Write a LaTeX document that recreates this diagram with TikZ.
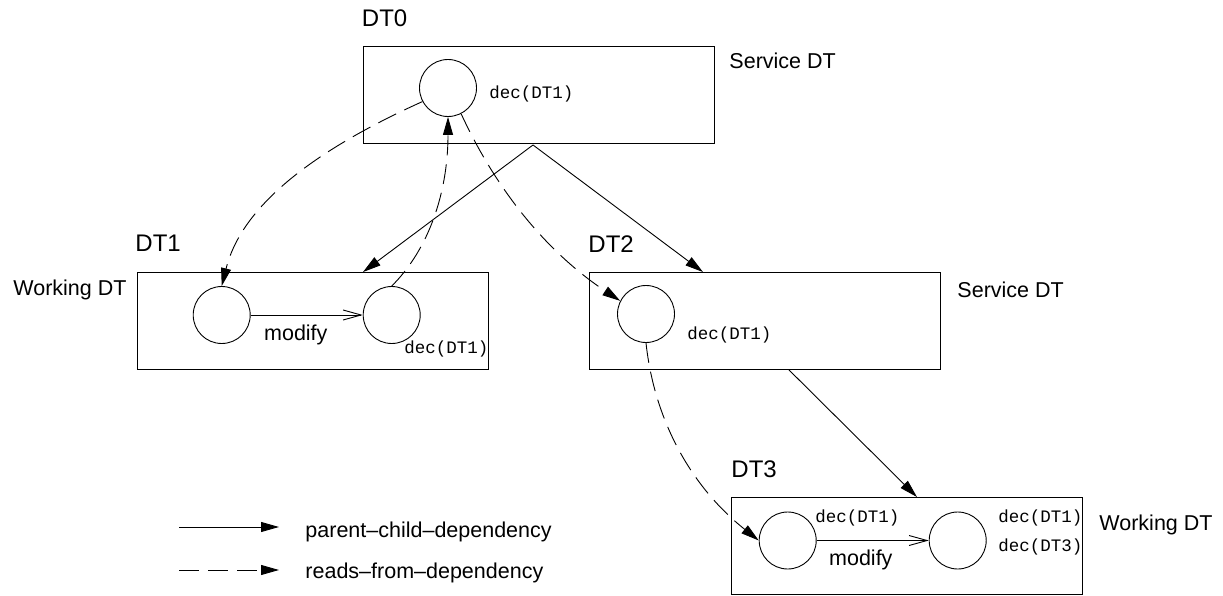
\documentclass[tikz,border=0pt]{standalone}
\usepackage{fontspec}
\setmainfont{Liberation Sans}
\setmonofont{Liberation Mono}
\usetikzlibrary{positioning,arrows.meta}

\begin{document}
\begin{tikzpicture}[x=1pt, y=-1pt, line width=0.9pt,
dtbox/.style={rectangle, draw, minimum width=351pt, minimum height=97pt},
statenode/.style={circle, draw, minimum size=57pt},
dtname/.style={anchor=base west, font=\fontsize{24}{28}\selectfont},
declabel/.style={anchor=base west, font=\fontsize{17.5}{20}\ttfamily},
kindlabel/.style={anchor=base west},
pcarrow/.style={-{Triangle[length=18pt,width=10pt]}},
rfarrow/.style={pcarrow, dash pattern=on 20pt off 9pt},
modarrow/.style={-{Straight Barb[length=18pt,width=10pt]}}]
\tikzstyle{every node}=[font=\fontsize{21.5}{25}\selectfont, inner sep=0pt]
\useasboundingbox (0,0) rectangle (1223,596);

% the four DTs
\node[dtbox] (dt0) at (538.5,95) {};
\node[dtbox] (dt1) at (312.5,321) {};
\node[dtbox] (dt2) at (765,321) {};
\node[dtbox] (dt3) at (907,546) {};

\node[dtname] (dt0name) at (361.5,26.7) {DT0};
\node[dtname] (dt1name) at (135,251.7) {DT1};
\node[dtname] (dt2name) at (588,252.7) {DT2};
\node[dtname] (dt3name) at (731,477.7) {DT3};

\node[kindlabel] (dt0kind) at (729,69) {Service DT};
\node[kindlabel] (dt1kind) at (13,295.7) {Working DT};
\node[kindlabel] (dt2kind) at (957,297) {Service DT};
\node[kindlabel] (dt3kind) at (1099,530) {Working DT};

% states
\node[statenode] (c0) at (448,88) {};
\node[statenode] (c1a) at (221.7,315) {};
\node[statenode] (c1b) at (391.7,315) {};
\node[statenode] (c2) at (646,314) {};
\node[statenode] (c3a) at (787.7,540.5) {};
\node[statenode] (c3b) at (957.7,540.5) {};

\node[declabel] (d0) at (488.8,98.5) {dec(DT1)};
\node[declabel] (d1) at (404,353.3) {dec(DT1)};
\node[declabel] (d2) at (687,339) {dec(DT1)};
\node[declabel] (d3a) at (815,522.7) {dec(DT1)};
\node[declabel] (d3b) at (998,522.7) {dec(DT1)};
\node[declabel] (d3c) at (998,551) {dec(DT3)};

\draw[modarrow] (c1a) -- (c1b);
\node[kindlabel] (mod1) at (263.7,340) {modify};
\draw[modarrow] (c3a) -- (c3b);
\node[kindlabel] (mod3) at (828.7,565) {modify};

% parent-child
\coordinate (fork) at (533,145);
\draw[pcarrow] (fork) -- ([xshift=50.5pt]dt1.north);
\draw[pcarrow] (fork) -- ([xshift=-62pt]dt2.north);
\draw[pcarrow] ([xshift=24pt]dt2.south) -- ([xshift=10pt]dt3.north);

% reads-from
\draw[rfarrow] (c0.208) .. controls (315,150) and (242,205) .. (c1a.north);
\draw[rfarrow] (c1b.north) .. controls (429,249) and (448,192) .. (c0.south);
\draw[rfarrow] (c0.297) .. controls (497.6,192.9) and (549.3,254) .. (c2.153);
\draw[rfarrow] (c2.south) .. controls (654.6,422.2) and (692.4,487.8) .. (c3a.west);

% legend
\coordinate (pcA) at (179,527);
\coordinate (pcB) at (279,527);
\coordinate (rfA) at (179,570);
\coordinate (rfB) at (279,570);
\draw[pcarrow] (pcA) -- (pcB);
\draw[rfarrow] (rfA) -- (rfB);
\node[right=26pt of pcB, yshift=-5pt] (pclabel) {parent--child--dependency};
\node[right=26pt of rfB, yshift=-3pt] (rflabel) {reads--from--dependency};
\end{tikzpicture}
\end{document}
